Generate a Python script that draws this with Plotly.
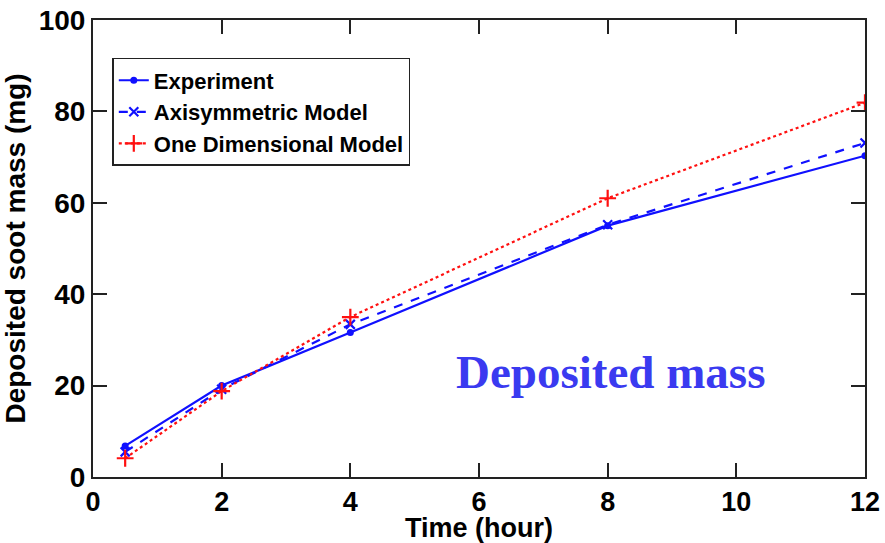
import plotly.graph_objects as go

# Soot deposition over time: measurement vs. two models
time_h = [0.5, 2, 4, 8, 12]
experiment = [6.8, 20.0, 31.6, 55.0, 70.3]
axisymmetric = [5.5, 19.2, 33.4, 55.2, 73.1]
one_dimensional = [4.1, 18.8, 35.0, 61.0, 81.9]

x_ticks = [0, 2, 4, 6, 8, 10, 12]
y_ticks = [0, 20, 40, 60, 80, 100]

BLUE = "#1010ff"
RED = "#ff1010"
FONT = "Liberation Sans, Arial, sans-serif"

fig = go.Figure()
fig.add_trace(go.Scatter(
    x=time_h, y=experiment, name="Experiment", mode="lines+markers",
    line=dict(color=BLUE, width=2.2, dash="solid"),
    marker=dict(symbol="circle", size=7, color=BLUE),
))
fig.add_trace(go.Scatter(
    x=time_h, y=axisymmetric, name="Axisymmetric Model", mode="lines+markers",
    line=dict(color=BLUE, width=2.2, dash="dash"),
    marker=dict(symbol="x-thin", size=9, line=dict(color=BLUE, width=2.2)),
))
fig.add_trace(go.Scatter(
    x=time_h, y=one_dimensional, name="One Dimensional Model", mode="lines+markers",
    line=dict(color=RED, width=2.2, dash="dot"),
    marker=dict(symbol="cross-thin", size=12, line=dict(color=RED, width=2.2)),
))

axis_common = dict(
    showline=True, linecolor="#222222", linewidth=2, mirror="allticks",
    ticks="inside", ticklen=14, tickwidth=2, tickcolor="#222222",
    showgrid=False, zeroline=False, automargin=False,
    tickfont=dict(family=FONT, size=27, color="black", weight="bold"),
)

fig.update_xaxes(
    range=[0, 12], tickvals=x_ticks, **axis_common,
    title=dict(text="Time (hour)", standoff=6,
               font=dict(family=FONT, size=27, color="black", weight="bold")),
)
fig.update_yaxes(
    range=[0, 100], tickvals=y_ticks, **axis_common,
    tickfont_size=28,
    title=dict(text="Deposited soot mass (mg)", standoff=6,
               font=dict(family=FONT, size=28, color="black", weight="bold")),
)

fig.add_annotation(
    x=8.05, y=23, xref="x", yref="y", text="<b>Deposited mass</b>", showarrow=False,
    font=dict(family="Liberation Serif, Times New Roman, serif", size=47, color="#3a3af0"),
)

fig.update_layout(
    width=885, height=543,
    margin=dict(l=93, r=20, t=20, b=66),
    paper_bgcolor="white", plot_bgcolor="white",
    showlegend=True,
    legend=dict(
        x=0.025, y=0.917, xanchor="left", yanchor="top",
        bgcolor="white", bordercolor="#222222", borderwidth=1.5,
        font=dict(family=FONT, size=22, color="black", weight="bold"),
        itemwidth=30, tracegroupgap=0,
    ),
)

fig.write_html("out.html")
